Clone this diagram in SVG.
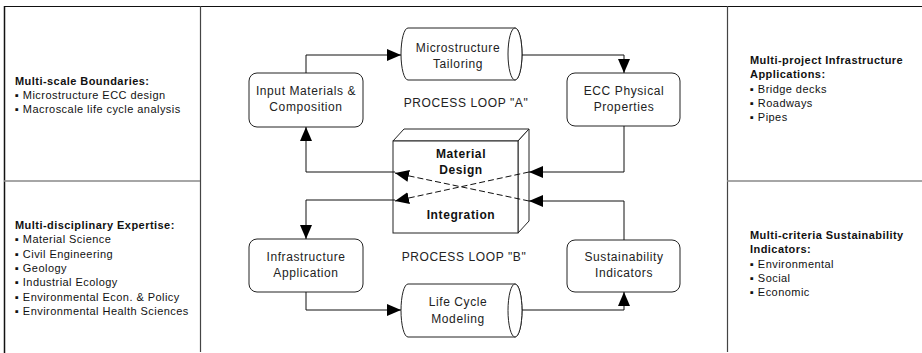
<svg xmlns="http://www.w3.org/2000/svg" width="922" height="353" viewBox="0 0 922 353">
<style>
.side{font-family:"Liberation Sans",Arial,sans-serif;font-size:11px;fill:#111;letter-spacing:0.45px}
.head{font-weight:bold}
.node{font-family:"Liberation Sans",Arial,sans-serif;font-size:12px;fill:#222;letter-spacing:0.6px;text-anchor:middle}
.bold{font-weight:bold;fill:#111}
.shape{fill:#fff;stroke:#222;stroke-width:1}
.conn{fill:none;stroke:#111;stroke-width:1}
.dash{stroke-dasharray:6,3}
</style>
<defs>
<marker id="ah" viewBox="0 0 14 12" refX="14" refY="6" markerWidth="14" markerHeight="12" orient="auto" markerUnits="userSpaceOnUse">
<path d="M0,0 L14,6 L0,12 Z" fill="#000"/>
</marker>
</defs>
<rect width="922" height="353" fill="#fff"/>
<g id="frame">
<line x1="4" y1="6.5" x2="922" y2="6.5" stroke="#111" stroke-width="1.2"/>
<line x1="4.5" y1="6" x2="4.5" y2="353" stroke="#111" stroke-width="1.5"/>
<line x1="200.5" y1="6" x2="200.5" y2="352" stroke="#444" stroke-width="1.2"/>
<line x1="727.5" y1="6" x2="727.5" y2="352" stroke="#444" stroke-width="1.2"/>
<line x1="4" y1="181" x2="200" y2="181" stroke="#888" stroke-width="1.6"/>
<line x1="727" y1="181" x2="922" y2="181" stroke="#888" stroke-width="1.6"/>
</g>
<g id="panel-scale">
<text class="side head" x="15" y="85">Multi-scale Boundaries:</text>
<text class="side" x="15" y="99">▪ Microstructure ECC design</text>
<text class="side" x="15" y="113">▪ Macroscale life cycle analysis</text>
</g>
<g id="panel-expertise">
<text class="side head" x="15" y="229">Multi-disciplinary Expertise:</text>
<text class="side" x="15" y="243">▪ Material Science</text>
<text class="side" x="15" y="257.5">▪ Civil Engineering</text>
<text class="side" x="15" y="272">▪ Geology</text>
<text class="side" x="15" y="286">▪ Industrial Ecology</text>
<text class="side" x="15" y="300.5">▪ Environmental Econ. &amp; Policy</text>
<text class="side" x="15" y="315">▪ Environmental Health Sciences</text>
</g>
<g id="panel-applications">
<text class="side head" x="750" y="64">Multi-project Infrastructure</text>
<text class="side head" x="750" y="78">Applications:</text>
<text class="side" x="750" y="93">▪ Bridge decks</text>
<text class="side" x="750" y="107">▪ Roadways</text>
<text class="side" x="750" y="121">▪ Pipes</text>
</g>
<g id="panel-indicators">
<text class="side head" x="750" y="239">Multi-criteria Sustainability</text>
<text class="side head" x="750" y="253">Indicators:</text>
<text class="side" x="750" y="268">▪ Environmental</text>
<text class="side" x="750" y="282">▪ Social</text>
<text class="side" x="750" y="296">▪ Economic</text>
</g>
<g id="n-input">
<rect class="shape" x="249" y="73" width="114" height="54" rx="8"/>
<text class="node" x="306" y="95">Input Materials &amp;</text>
<text class="node" x="306" y="111">Composition</text>
</g>
<g id="n-micro">
<path class="shape" d="M408,28 H515 A7,26 0 0 1 515,80 H408 A7,26 0 0 1 408,28 Z"/>
<ellipse class="shape" cx="515" cy="54" rx="7" ry="26"/>
<text class="node" x="458" y="52">Microstructure</text>
<text class="node" x="458" y="68">Tailoring</text>
</g>
<g id="n-ecc">
<rect class="shape" x="567" y="73" width="113" height="53" rx="8"/>
<text class="node" x="624" y="95">ECC Physical</text>
<text class="node" x="624" y="111">Properties</text>
</g>
<g id="n-infra">
<rect class="shape" x="249" y="239" width="114" height="53" rx="8"/>
<text class="node" x="306" y="261">Infrastructure</text>
<text class="node" x="306" y="277">Application</text>
</g>
<g id="n-life">
<path class="shape" d="M408,284 H515 A7,26.5 0 0 1 515,337 H408 A7,26.5 0 0 1 408,284 Z"/>
<ellipse class="shape" cx="515" cy="310.5" rx="7" ry="26.5"/>
<text class="node" x="458" y="306">Life Cycle</text>
<text class="node" x="458" y="323">Modeling</text>
</g>
<g id="n-sust">
<rect class="shape" x="567" y="240" width="113" height="52" rx="8"/>
<text class="node" x="624" y="261">Sustainability</text>
<text class="node" x="624" y="277">Indicators</text>
</g>
<g id="n-box">
<path class="shape" d="M393,141 L404,129 L529,129 L518,141 Z"/>
<path class="shape" d="M518,141 L529,129 L529,221 L518,233 Z"/>
<rect class="shape" x="393" y="141" width="125" height="92"/>
<text class="node bold" x="461" y="158">Material</text>
<text class="node bold" x="461" y="174">Design</text>
<text class="node bold" x="461" y="219">Integration</text>
</g>
<g id="labels">
<text class="node" x="466" y="107">PROCESS LOOP "A"</text>
<text class="node" x="464" y="261">PROCESS LOOP "B"</text>
</g>
<g id="connectors">
<path class="conn" d="M306,73 V55 H401" marker-end="url(#ah)"/>
<path class="conn" d="M522,55 H624 V73" marker-end="url(#ah)"/>
<path class="conn" d="M624,126 V172 H529" marker-end="url(#ah)"/>
<path class="conn dash" d="M529,172 L395,201" marker-end="url(#ah)"/>
<path class="conn" d="M395,200 H306 V239" marker-end="url(#ah)"/>
<path class="conn" d="M306,292 V310 H401" marker-end="url(#ah)"/>
<path class="conn" d="M522,310 H624 V292" marker-end="url(#ah)"/>
<path class="conn" d="M624,240 V201 H529" marker-end="url(#ah)"/>
<path class="conn dash" d="M529,201 L395,173" marker-end="url(#ah)"/>
<path class="conn" d="M395,172 H306 V127" marker-end="url(#ah)"/>
</g>
</svg>
